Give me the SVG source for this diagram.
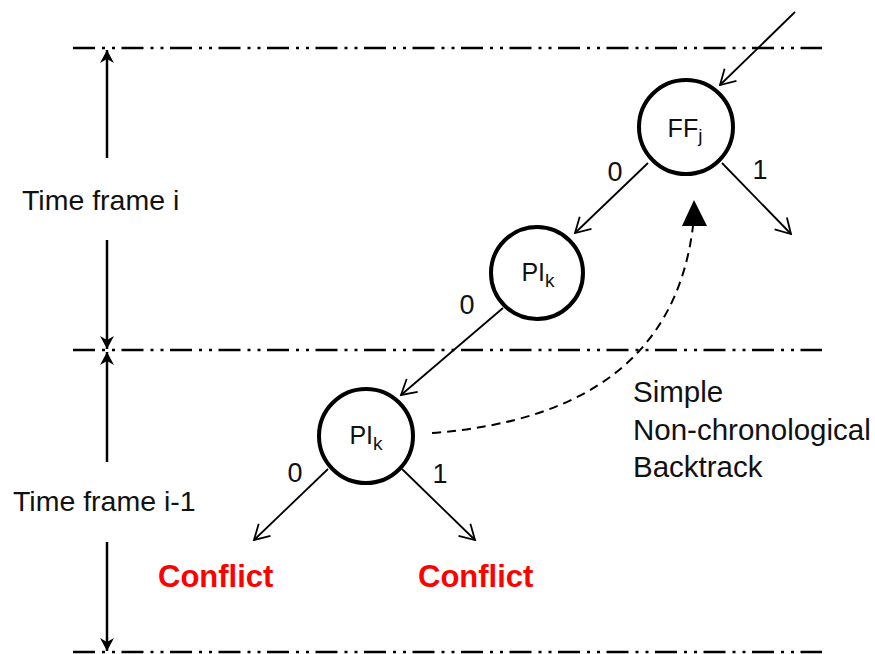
<svg xmlns="http://www.w3.org/2000/svg" width="875" height="654" viewBox="0 0 875 654">
  <style>
    .frame { stroke: #000; stroke-width: 2.5; fill: none; stroke-dasharray: 22 7 3 7 3 6.5; }
    .dim { stroke: #000; stroke-width: 2.5; fill: none; }
    .edge { stroke: #000; stroke-width: 1.8; fill: none; }
    .node { fill: #fff; stroke: #000; stroke-width: 4; }
    .lbl { font-family: "Liberation Sans", Arial, sans-serif; font-size: 28.5px; fill: #111; }
    .bt { font-size: 29.5px; }
    .nlbl { font-family: "Liberation Sans", Arial, sans-serif; font-size: 25px; fill: #111; text-anchor: middle; }
    .sub { font-size: 19px; }
    .elbl { font-family: "Liberation Sans", Arial, sans-serif; font-size: 27px; fill: #111; text-anchor: middle; }
    .conf { font-family: "Liberation Sans", Arial, sans-serif; font-size: 31px; font-weight: bold; fill: #ff0000; }
  </style>
  <defs>
    <marker id="open" viewBox="-17 -10 19 20" refX="0" refY="0" markerWidth="19" markerHeight="20" markerUnits="userSpaceOnUse" orient="auto">
      <path d="M-14.7,-8.5 L0,0 L-14.7,8.5" fill="none" stroke="#000" stroke-width="1.8"/>
    </marker>
    <marker id="stealth" viewBox="-14 -8 15 16" refX="0" refY="0" markerWidth="15" markerHeight="16" markerUnits="userSpaceOnUse" orient="auto">
      <path d="M0,0 L-13,-7 L-9,0 L-13,7 Z" fill="#000"/>
    </marker>
  </defs>

  <g id="frame-lines">
    <line class="frame" x1="73" y1="48" x2="822" y2="48"/>
    <line class="frame" x1="73" y1="350" x2="822" y2="350"/>
    <line class="frame" x1="73" y1="652" x2="822" y2="652"/>
  </g>

  <g id="time-frame-i">
    <line class="dim" x1="107" y1="158" x2="107" y2="50" marker-end="url(#stealth)"/>
    <line class="dim" x1="107" y1="240" x2="107" y2="349" marker-end="url(#stealth)"/>
    <text class="lbl" x="22" y="210">Time frame i</text>
  </g>

  <g id="time-frame-i-1">
    <line class="dim" x1="107" y1="462" x2="107" y2="352" marker-end="url(#stealth)"/>
    <line class="dim" x1="107" y1="542" x2="107" y2="651" marker-end="url(#stealth)"/>
    <text class="lbl" x="13" y="511">Time frame i-1</text>
  </g>

  <g id="connectors">
    <line class="edge" x1="795" y1="12" x2="720" y2="85" marker-end="url(#open)"/>
    <line class="edge" x1="648" y1="163" x2="575" y2="233" marker-end="url(#open)"/>
    <line class="edge" x1="722" y1="163" x2="791" y2="234" marker-end="url(#open)"/>
    <line class="edge" x1="503" y1="308" x2="401" y2="395" marker-end="url(#open)"/>
    <line class="edge" x1="328" y1="469" x2="254" y2="540" marker-end="url(#open)"/>
    <line class="edge" x1="402" y1="469" x2="475" y2="540" marker-end="url(#open)"/>
    <path d="M432,433 Q670,415 693,226" fill="none" stroke="#000" stroke-width="2" stroke-dasharray="9 6"/>
    <polygon points="694,200 682,226 707,226" fill="#000"/>
    <text class="elbl" x="615" y="181">0</text>
    <text class="elbl" x="760" y="179">1</text>
    <text class="elbl" x="467" y="314">0</text>
    <text class="elbl" x="295" y="482">0</text>
    <text class="elbl" x="440" y="483">1</text>
  </g>

  <g id="node-ffj">
    <circle class="node" cx="686" cy="127" r="47"/>
    <text class="nlbl" x="685" y="137">FF<tspan class="sub" dy="5">j</tspan></text>
  </g>

  <g id="node-pik-mid">
    <circle class="node" cx="537" cy="273" r="46"/>
    <text class="nlbl" x="538" y="281">PI<tspan class="sub" dy="6">k</tspan></text>
  </g>

  <g id="node-pik-low">
    <circle class="node" cx="366" cy="436" r="47"/>
    <text class="nlbl" x="366" y="444">PI<tspan class="sub" dy="6">k</tspan></text>
  </g>

  <g id="backtrack-label">
    <text class="lbl bt" x="633" y="402">Simple</text>
    <text class="lbl bt" x="633" y="440">Non-chronological</text>
    <text class="lbl bt" x="633" y="477">Backtrack</text>
  </g>

  <g id="conflicts">
    <text class="conf" x="158" y="587">Conflict</text>
    <text class="conf" x="418" y="587">Conflict</text>
  </g>
</svg>
